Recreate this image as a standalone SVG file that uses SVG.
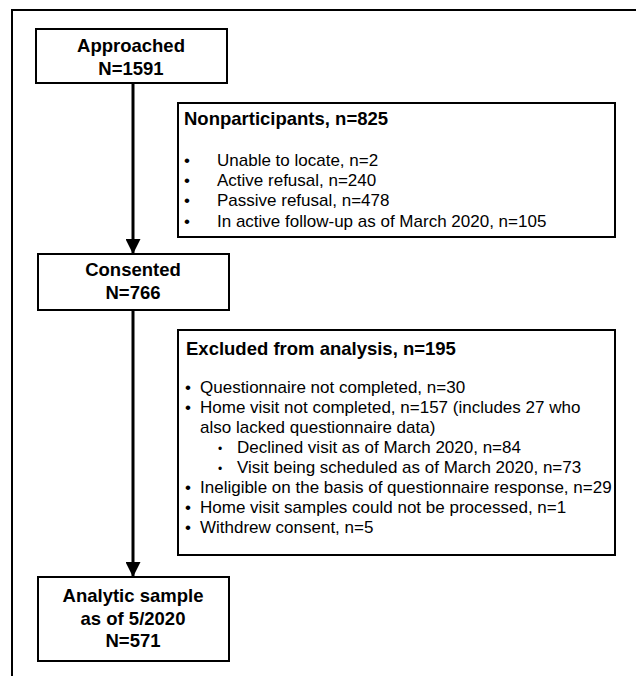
<svg xmlns="http://www.w3.org/2000/svg" width="636" height="676" viewBox="0 0 636 676">
<style>
.box{fill:#fff;stroke:#000;stroke-width:2}
.frame{fill:none;stroke:#000;stroke-width:2}
.h{font-family:"Liberation Sans",Arial,sans-serif;font-weight:bold;font-size:18.5px;fill:#000;text-anchor:middle}
.t{font-family:"Liberation Sans",Arial,sans-serif;font-weight:bold;font-size:18.5px;fill:#000}
.b{font-family:"Liberation Sans",Arial,sans-serif;font-size:17px;fill:#000}
.sb{font-size:12px}
.edge{stroke:#000;stroke-width:3;fill:none}
</style>
<defs>
<marker id="arr" markerWidth="5" markerHeight="5" refX="5" refY="2.5" orient="auto" markerUnits="strokeWidth">
<path d="M0,0 L5,2.5 L0,5 Z" fill="#000"/>
</marker>
</defs>
<rect width="636" height="676" fill="#fff"/>
<path class="frame" d="M12,680 V10 H640"/>
<g id="connectors">
<line class="edge" x1="133" y1="83" x2="133" y2="254" marker-end="url(#arr)"/>
<line class="edge" x1="133" y1="310" x2="133" y2="577" marker-end="url(#arr)"/>
</g>
<g id="approached">
<rect class="box" x="36" y="29" width="191" height="54"/>
<text class="h" x="131" y="52">Approached</text>
<text class="h" x="131" y="75">N=1591</text>
</g>
<g id="nonparticipants">
<rect class="box" x="178" y="103" width="437" height="134"/>
<text class="t" x="184" y="125">Nonparticipants, n=825</text>
<g class="b">
<text x="184" y="166">•</text><text x="217" y="166">Unable to locate, n=2</text>
<text x="184" y="186">•</text><text x="217" y="186">Active refusal, n=240</text>
<text x="184" y="206">•</text><text x="217" y="206">Passive refusal, n=478</text>
<text x="184" y="227">•</text><text x="217" y="227">In active follow-up as of March 2020, n=105</text>
</g>
</g>
<g id="consented">
<rect class="box" x="38" y="254" width="191" height="56"/>
<text class="h" x="133" y="276">Consented</text>
<text class="h" x="133" y="299">N=766</text>
</g>
<g id="excluded">
<rect class="box" x="178" y="330" width="437" height="225"/>
<text class="t" x="186" y="355">Excluded from analysis, n=195</text>
<g class="b">
<text x="185" y="393">•</text><text x="200" y="393">Questionnaire not completed, n=30</text>
<text x="185" y="413">•</text><text x="200" y="413">Home visit not completed, n=157 (includes 27 who</text>
<text x="200" y="433">also lacked questionnaire data)</text>
<text class="sb" x="218" y="453">•</text><text x="237" y="453">Declined visit as of March 2020, n=84</text>
<text class="sb" x="218" y="473">•</text><text x="237" y="473">Visit being scheduled as of March 2020, n=73</text>
<text x="185" y="493">•</text><text x="200" y="493">Ineligible on the basis of questionnaire response, n=29</text>
<text x="185" y="513">•</text><text x="200" y="513">Home visit samples could not be processed, n=1</text>
<text x="185" y="533">•</text><text x="200" y="533">Withdrew consent, n=5</text>
</g>
</g>
<g id="analytic">
<rect class="box" x="38" y="577" width="191" height="84"/>
<text class="h" x="133" y="602">Analytic sample</text>
<text class="h" x="133" y="625">as of 5/2020</text>
<text class="h" x="133" y="647">N=571</text>
</g>
</svg>
